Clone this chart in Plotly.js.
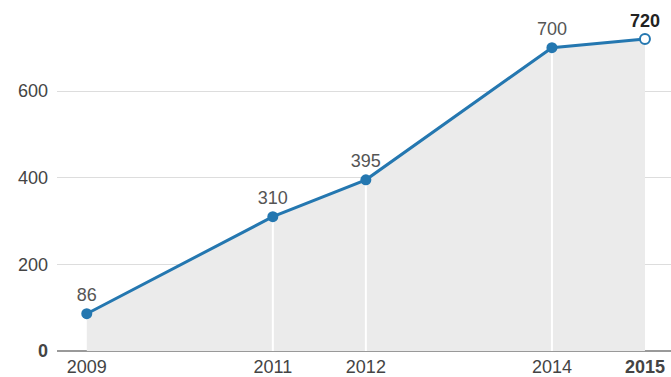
<!DOCTYPE html>
<html>
<head>
<meta charset="utf-8">
<script src="https://cdn.plot.ly/plotly-3.0.1.min.js"></script>
<style>html,body{margin:0;padding:0;background:#fff;}#chart{width:671px;height:377px;}</style>
</head>
<body>
<div id="chart"></div>
<script>
const years = [2009, 2011, 2012, 2014, 2015];
const values = [86, 310, 395, 700, 720];
const pointLabels = ['86', '310', '395', '700', '<b>720</b>'];
const xTickLabels = ['2009', '2011', '2012', '2014', '<b>2015</b>'];
const yTickValues = [0, 200, 400, 600];
const yTickLabels = ['<b>0</b>', '200', '400', '600'];
const dividerYears = [2011, 2012, 2014];

const blue = '#2477b0';
const traces = [];

// filled area
traces.push({
  x: years, y: values, type: 'scatter', mode: 'none',
  fill: 'tozeroy', fillcolor: '#ebebeb', hoverinfo: 'skip', showlegend: false
});

// white dividers inside the area
dividerYears.forEach(function (yr) {
  const v = values[years.indexOf(yr)];
  traces.push({
    x: [yr, yr], y: [0, v], type: 'scatter', mode: 'lines',
    line: {color: '#ffffff', width: 2}, hoverinfo: 'skip', showlegend: false
  });
});

const last = years.length - 1;
// main line
traces.push({
  x: years, y: values, type: 'scatter', mode: 'lines+markers+text',
  line: {color: blue, width: 3},
  marker: {
    opacity: 1,
    size: years.map(function (y, i) { return i === last ? 10 : 11; }),
    color: years.map(function (y, i) { return i === last ? '#ffffff' : blue; }),
    line: {color: blue, width: years.map(function (y, i) { return i === last ? 2 : 0; })}
  },
  text: pointLabels,
  textposition: 'top center',
  textfont: {
    family: 'Liberation Sans, Arial, sans-serif', size: 18,
    color: years.map(function (y, i) { return i === last ? '#222222' : '#555555'; })
  },
  cliponaxis: false,
  showlegend: false
});

const layout = {
  width: 671, height: 377,
  margin: {l: 57, r: 0, t: 0, b: 26},
  paper_bgcolor: '#ffffff', plot_bgcolor: '#ffffff',
  font: {family: 'Liberation Sans, Arial, sans-serif', color: '#555555', size: 18},
  showlegend: false,
  xaxis: {
    range: [2008.68, 2015.28],
    tickvals: years, ticktext: xTickLabels,
    showgrid: false, zeroline: false, showline: false,
    ticks: '', ticklabelstandoff: 3,
    tickfont: {size: 18, color: '#444444'},
    fixedrange: true
  },
  yaxis: {
    range: [0, 810],
    tickvals: yTickValues, ticktext: yTickLabels,
    showgrid: true, gridcolor: '#dddddd', gridwidth: 1,
    zeroline: true, zerolinecolor: '#999999', zerolinewidth: 2,
    showline: false, ticks: '', ticklabelstandoff: 8,
    tickfont: {size: 18, color: '#444444'},
    fixedrange: true
  }
};

Plotly.newPlot('chart', traces, layout, {displayModeBar: false, staticPlot: true});
</script>
</body>
</html>
